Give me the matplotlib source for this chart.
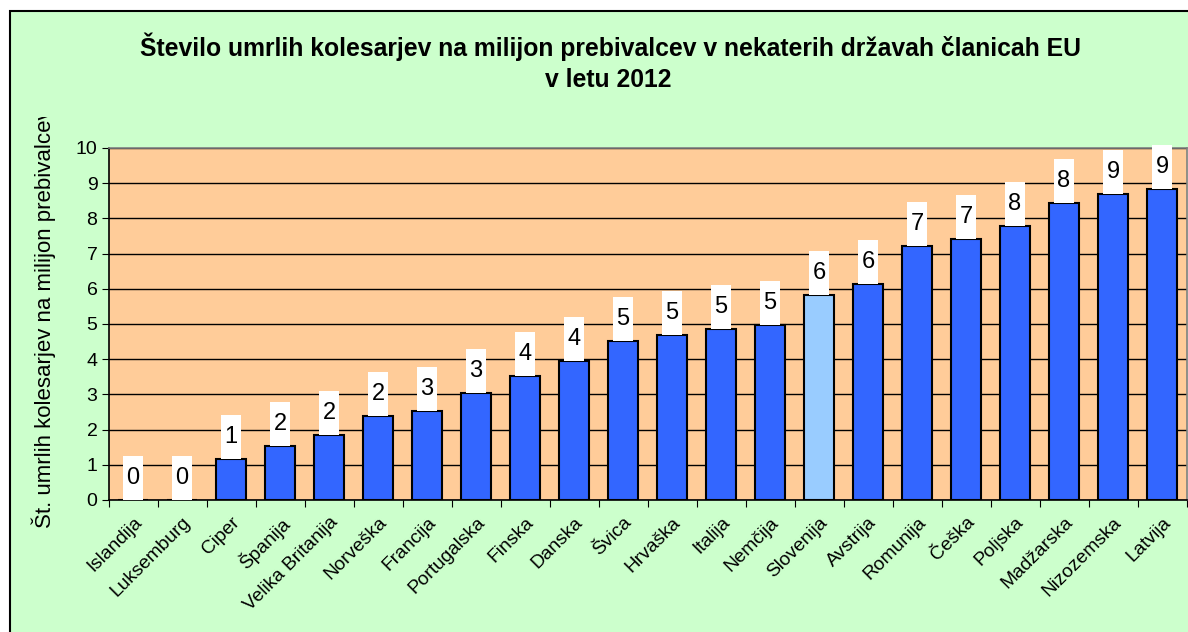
import matplotlib
matplotlib.use('Agg')
import numpy as np
import matplotlib.pyplot as plt
from matplotlib.patches import Rectangle
from matplotlib.transforms import Bbox, TransformedBbox

plt.rcParams['font.family'] = ['Liberation Sans', 'DejaVu Sans']

countries = ['Islandija', 'Luksemburg', 'Ciper', 'Španija', 'Velika Britanija', 'Norveška',
             'Francija', 'Portugalska', 'Finska', 'Danska', 'Švica', 'Hrvaška', 'Italija',
             'Nemčija', 'Slovenija', 'Avstrija', 'Romunija', 'Češka', 'Poljska', 'Madžarska',
             'Nizozemska', 'Latvija']
values = [0, 0, 1.16, 1.53, 1.85, 2.39, 2.52, 3.04, 3.52, 3.95, 4.52, 4.69, 4.86, 4.97,
          5.82, 6.14, 7.22, 7.41, 7.78, 8.44, 8.69, 8.83]
highlight = 'Slovenija'
title1 = 'Število umrlih kolesarjev na milijon prebivalcev v nekaterih državah članicah EU'
title2 = 'v letu 2012'
ylabel = 'Št. umrlih kolesarjev na milijon prebivalcev'

W, H = 1188, 632
fig = plt.figure(figsize=(W / 100, H / 100), dpi=100, facecolor='white')
# green chart area with black border (top / left visible)
fig.add_artist(Rectangle((10 / W, -0.1), 1.2, 1.1 - 10.5 / H, transform=fig.transFigure,
                         facecolor='#CCFFCC', edgecolor='black', lw=1.5, zorder=-5))

ax = fig.add_axes([108.5 / W, 1 - 500 / H, 1078 / W, 352 / H])
ax.set_facecolor('#FFCC99')

x = np.arange(len(countries))
colors = ['#99CCFF' if c == highlight else '#3366FF' for c in countries]
ax.bar(x, values, width=0.61, color=colors, edgecolor='black', linewidth=1.5, zorder=3)
# white label boxes
ax.bar(x, 1.25, bottom=values, width=0.41, color='white', zorder=4, clip_on=False)
for xi, v in zip(x, values):
    ax.text(xi, v + 0.62, str(int(v + 0.5)), ha='center', va='center',
            fontsize=17, zorder=5)

ax.set_xlim(-0.5, len(countries) - 0.5)
ax.set_ylim(0, 10)
ax.set_yticks(range(11))
ax.yaxis.grid(True, color='black', lw=1)
ax.set_axisbelow(True)

ax.set_xticks(np.arange(-0.5, len(countries), 1))
ax.set_xticklabels([])
ax.set_xticks(x, minor=True)
ax.set_xticklabels(countries, minor=True, rotation=45, ha='right', rotation_mode='anchor')
ax.tick_params(axis='x', which='minor', length=0, pad=10, labelsize=13.8)
ax.tick_params(axis='x', which='major', length=5, direction='out', color='black')
ax.tick_params(axis='y', length=5, direction='out', labelsize=14, pad=3)

for s in ['top', 'right']:
    ax.spines[s].set_color('#808080')
    ax.spines[s].set_linewidth(1.2)
for s in ['left', 'bottom']:
    ax.spines[s].set_color('black')
    ax.spines[s].set_linewidth(1.2)

fig.text(610 / W, 1 - 47 / H, title1, ha='center', va='center', fontsize=17.8, fontweight='bold')
fig.text(608 / W, 1 - 80 / H, title2, ha='center', va='center', fontsize=17.8, fontweight='bold')

yl = fig.text(44 / W, 1 - 528 / H, ylabel, rotation=90, ha='center', va='bottom', fontsize=16)
yl.set_clip_box(TransformedBbox(Bbox([[0, 0], [1, 1 - 117 / H]]), fig.transFigure))
yl.set_clip_on(True)

fig.savefig('out.png', dpi=100, facecolor=fig.get_facecolor())
